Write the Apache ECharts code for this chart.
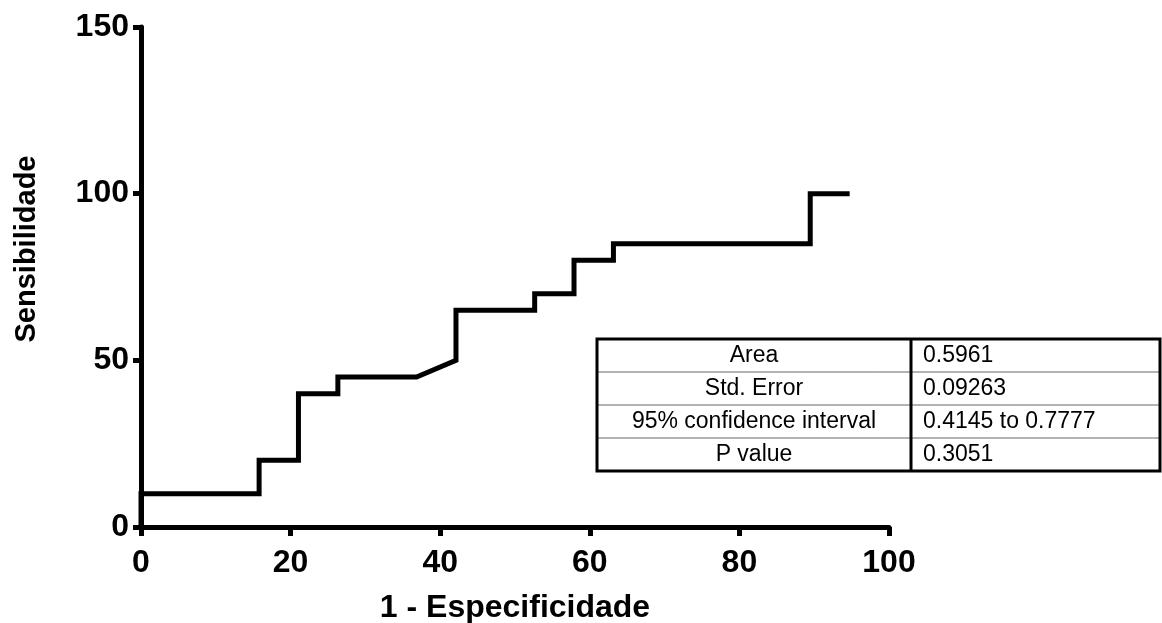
<!DOCTYPE html>
<html>
<head>
<meta charset="utf-8">
<script src="https://cdn.jsdelivr.net/npm/echarts@6/dist/echarts.min.js"></script>
<style>
  html, body { margin: 0; padding: 0; background: #fff; }
  #chart { width: 1162px; height: 623px; }
</style>
</head>
<body>
<div id="chart"></div>
<script>
// ROC curve: 1 - specificity (%) vs sensitivity (%)
const fpr = [0, 0, 15.79, 15.79, 21.05, 21.05, 26.32, 26.32, 36.84, 42.11, 42.11, 52.63, 52.63, 57.89, 57.89, 63.16, 63.16, 89.47, 89.47, 94.74];
const tpr = [0, 10, 10, 20, 20, 40, 40, 45, 45, 50, 65, 65, 70, 70, 80, 80, 85, 85, 100, 100];

// results table
const tableLabels = ['Area', 'Std. Error', '95% confidence interval', 'P value'];
const tableValues = ['0.5961', '0.09263', '0.4145 to 0.7777', '0.3051'];

const FONT = '"Liberation Sans", Arial, sans-serif';

const chart = echarts.init(document.getElementById('chart'));

// tabela no canto
const tbl = { left: 597, top: 339, width: 563, rowH: 33, colX: 911 };
const tableEls = [];
for (let i = 1; i < tableLabels.length; i++) {
  tableEls.push({
    type: 'line',
    shape: { x1: tbl.left, y1: tbl.top + i * tbl.rowH, x2: tbl.left + tbl.width, y2: tbl.top + i * tbl.rowH },
    style: { stroke: '#666', lineWidth: 1 },
  });
}
tableEls.push({
  type: 'line',
  shape: { x1: tbl.colX, y1: tbl.top, x2: tbl.colX, y2: tbl.top + tbl.rowH * tableLabels.length },
  style: { stroke: '#000', lineWidth: 3 },
});
tableEls.push({
  type: 'rect',
  shape: { x: tbl.left, y: tbl.top, width: tbl.width, height: tbl.rowH * tableLabels.length },
  style: { fill: 'none', stroke: '#000', lineWidth: 3 },
});
tableLabels.forEach((lab, i) => {
  tableEls.push({
    type: 'text',
    x: (tbl.left + tbl.colX) / 2,
    y: tbl.top + i * tbl.rowH + tbl.rowH / 2,
    style: { text: lab, font: '23px ' + FONT, fill: '#000', align: 'center', verticalAlign: 'middle' },
  });
  tableEls.push({
    type: 'text',
    x: tbl.colX + 12,
    y: tbl.top + i * tbl.rowH + tbl.rowH / 2,
    style: { text: tableValues[i], font: '23px ' + FONT, fill: '#000', align: 'left', verticalAlign: 'middle' },
  });
});

chart.setOption({
  backgroundColor: '#fff',
  animation: false,
  grid: { left: 141, right: 273, top: 27, bottom: 96, containLabel: false, outerBoundsMode: 'none' },
  xAxis: {
    type: 'value',
    min: 0,
    max: 100,
    interval: 20,
    name: '1 - Especificidade',
    nameLocation: 'middle',
    nameGap: 65,
    nameTextStyle: { fontFamily: FONT, fontWeight: 'bold', fontSize: 32, color: '#000' },
    axisLine: { lineStyle: { color: '#000', width: 5 } },
    axisTick: { length: 9, lineStyle: { color: '#000', width: 5 } },
    axisLabel: { fontFamily: FONT, fontWeight: 'bold', fontSize: 32, color: '#000', margin: 20 },
    splitLine: { show: false },
  },
  yAxis: {
    type: 'value',
    min: 0,
    max: 150,
    interval: 50,
    name: 'Sensibilidade',
    nameLocation: 'middle',
    nameGap: 100,
    nameTextStyle: { fontFamily: FONT, fontWeight: 'bold', fontSize: 29, color: '#000', padding: [0, 0, 0, 56] },
    axisLine: { lineStyle: { color: '#000', width: 5 } },
    axisTick: { length: 8, lineStyle: { color: '#000', width: 5 } },
    axisLabel: { fontFamily: FONT, fontWeight: 'bold', fontSize: 32, color: '#000', margin: 12 },
    splitLine: { show: false },
  },
  series: [
    {
      type: 'line',
      data: fpr.map((x, i) => [x, tpr[i]]),
      showSymbol: false,
      symbol: 'none',
      lineStyle: { color: '#000', width: 5, cap: 'butt', join: 'miter' },
      z: 1,
    },
  ],
  graphic: tableEls,
});
</script>
</body>
</html>
